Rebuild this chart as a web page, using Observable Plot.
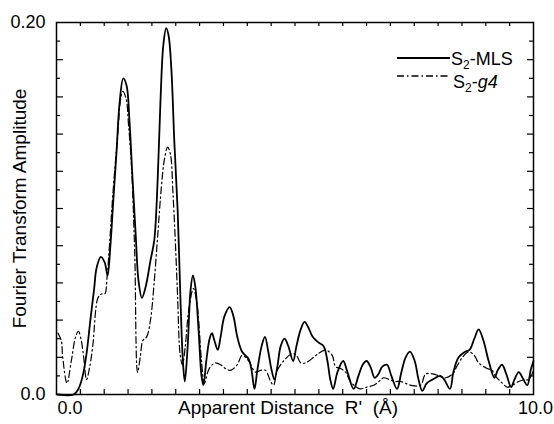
<!DOCTYPE html>
<html><head><meta charset="utf-8">
<script src="https://cdn.jsdelivr.net/npm/d3@7"></script>
<script src="https://cdn.jsdelivr.net/npm/@observablehq/plot@0.6"></script>
<style>
html,body{margin:0;padding:0;background:#fff;}
#chart{position:relative;width:554px;height:424px;font-family:"Liberation Sans",Arial,Helvetica,sans-serif;color:#000;}
#chart svg{display:block;}
.lg{position:absolute;font-size:18px;line-height:20px;white-space:nowrap;}
.lg sub{font-size:12px;vertical-align:-4px;line-height:0;}
.lgline{position:absolute;}
</style></head><body><div id="chart"></div>
<script>
// ---- data ----
const seriesNames = ["S2-MLS", "S2-g4"];
const solidX = [0.02,0.36,0.46,0.55,0.63,0.71,0.79,0.84,0.93,1.01,1.07,1.13,1.19,1.26,1.32,1.40,1.47,1.53,1.59,1.66,1.72,1.79,1.87,1.97,2.05,2.12,2.18,2.24,2.30,2.35,2.41,2.47,2.54,2.60,2.65,2.69,2.75,2.81,2.86,2.91,2.98,3.04,3.08,3.14,3.21,3.26,3.31,3.38,3.44,3.52,3.63,3.71,3.79,3.89,4.03,4.09,4.15,4.21,4.30,4.37,4.44,4.51,4.57,4.63,4.70,4.78,4.86,4.96,5.03,5.12,5.20,5.28,5.37,5.49,5.60,5.68,5.74,5.80,5.89,6.01,6.10,6.23,6.33,6.42,6.50,6.58,6.67,6.75,6.83,6.93,7.02,7.14,7.23,7.32,7.41,7.51,7.59,7.67,7.76,7.88,8.05,8.13,8.25,8.32,8.43,8.57,8.66,8.76,8.85,8.95,9.06,9.18,9.25,9.34,9.43,9.53,9.60,9.69,9.77,9.87,9.94,10.0];
const solidV = [0,0,0.003,0.010,0.022,0.040,0.057,0.068,0.074,0.071,0.064,0.080,0.104,0.131,0.156,0.170,0.166,0.147,0.118,0.086,0.061,0.052,0.058,0.072,0.083,0.115,0.158,0.188,0.197,0.193,0.174,0.136,0.099,0.050,0.018,0.007,0.026,0.056,0.064,0.058,0.034,0.010,0.005,0.018,0.030,0.033,0.029,0.024,0.031,0.042,0.047,0.042,0.031,0.023,0.019,0.013,0.003,0.013,0.026,0.031,0.023,0.013,0.008,0.015,0.026,0.030,0.026,0.018,0.026,0.035,0.039,0.036,0.031,0.028,0.026,0.018,0.008,0.003,0.012,0.018,0.012,0.003,0.010,0.016,0.018,0.015,0.009,0.011,0.015,0.016,0.010,0.003,0.012,0.020,0.023,0.018,0.008,0.002,0.006,0.008,0.010,0.008,0.003,0.012,0.020,0.023,0.024,0.030,0.035,0.029,0.018,0.009,0.013,0.016,0.011,0.004,0.008,0.012,0.009,0.005,0.013,0.018];
const dashX = [0.03,0.10,0.13,0.22,0.31,0.40,0.46,0.52,0.57,0.63,0.69,0.76,0.87,0.94,1.01,1.06,1.11,1.18,1.29,1.34,1.39,1.46,1.51,1.57,1.64,1.70,1.76,1.81,1.89,1.97,2.05,2.12,2.20,2.26,2.33,2.39,2.44,2.49,2.54,2.59,2.64,2.70,2.77,2.87,2.94,2.98,3.04,3.10,3.17,3.23,3.33,3.44,3.54,3.65,3.79,3.89,4.03,4.17,4.28,4.38,4.49,4.55,4.63,4.76,4.94,5.03,5.12,5.22,5.29,5.39,5.49,5.64,5.78,5.85,5.95,6.06,6.16,6.29,6.37,6.51,6.65,6.76,6.86,6.98,7.11,7.21,7.32,7.42,7.63,7.74,7.91,8.01,8.16,8.30,8.39,8.51,8.64,8.76,8.85,9.03,9.13,9.20,9.31,9.45,9.56,9.69,9.81,9.90,10.0];
const dashV = [0.033,0.029,0.020,0.006,0.018,0.031,0.034,0.029,0.020,0.008,0.014,0.026,0.052,0.054,0.054,0.063,0.080,0.107,0.142,0.158,0.163,0.159,0.145,0.124,0.076,0.012,0.021,0.029,0.031,0.040,0.061,0.085,0.112,0.126,0.133,0.129,0.109,0.083,0.052,0.022,0.016,0.026,0.045,0.057,0.050,0.040,0.018,0.006,0.012,0.015,0.017,0.016,0.014,0.013,0.016,0.021,0.018,0.012,0.013,0.013,0.007,0.005,0.013,0.018,0.022,0.021,0.017,0.017,0.018,0.020,0.022,0.024,0.021,0.015,0.014,0.012,0.007,0.004,0.003,0.004,0.005,0.007,0.009,0.008,0.007,0.007,0.006,0.005,0.005,0.011,0.011,0.010,0.009,0.011,0.015,0.020,0.023,0.021,0.017,0.014,0.013,0.010,0.007,0.004,0.005,0.007,0.008,0.008,0.013];
const xTickValues = [0, 10];
const xTickLabels = ["0.0", "10.0"];
const yTickValues = [0, 0.2];
const yTickLabels = ["0.0", "0.20"];
const xMinorTicks = [0.5,1,1.5,2,2.5,3,3.5,4,4.5,5,5.5,6,6.5,7,7.5,8,8.5,9,9.5];
const yMajorTicks = [0.02,0.04,0.06,0.08,0.10,0.12,0.14,0.16,0.18];
const yMinorTicks = [0.01,0.03,0.05,0.07,0.09,0.11,0.13,0.15,0.17,0.19];
const xLabel = "Apparent Distance\u00a0 R'\u00a0 (\u00c5)";
const yLabel = "Fourier Transform Amplitude";

const solid = solidX.map((x, i) => ({x, v: solidV[i]}));
const dash = dashX.map((x, i) => ({x, v: dashV[i]}));

const W = 554, H = 424, mL = 56, mR = 21, mT = 22, mB = 30;
const innerW = W - mL - mR, innerH = H - mT - mB;
const font = '"Liberation Sans", Arial, Helvetica, sans-serif';
const dashPattern = "7,3,1.5,3";

const chart = Plot.plot({
  width: W, height: H,
  marginLeft: mL, marginRight: mR, marginTop: mT, marginBottom: mB,
  style: {fontFamily: font, background: "#fff", color: "#000", overflow: "visible"},
  x: {domain: [0, 10], axis: null},
  y: {domain: [0, 0.2], axis: null},
  marks: [
    Plot.ruleX(xMinorTicks, {x: d => d, insetTop: innerH - 5, strokeWidth: 1.2}),
    Plot.ruleX(xMinorTicks, {x: d => d, insetBottom: innerH - 4, strokeWidth: 1.2}),
    Plot.ruleY(yMajorTicks, {y: d => d, insetRight: innerW - 7, strokeWidth: 1.2}),
    Plot.ruleY(yMinorTicks, {y: d => d, insetRight: innerW - 4, strokeWidth: 1.2}),
    Plot.ruleY(yMajorTicks, {y: d => d, insetLeft: innerW - 6, strokeWidth: 1.2}),
    Plot.ruleY(yMinorTicks, {y: d => d, insetLeft: innerW - 4, strokeWidth: 1.2}),
    Plot.line(dash, {x: "x", y: "v", curve: "catmull-rom", stroke: "#000", strokeWidth: 1.2, strokeDasharray: dashPattern}),
    Plot.line(solid, {x: "x", y: "v", curve: "catmull-rom", stroke: "#000", strokeWidth: 1.8}),
    Plot.frame({stroke: "#000", strokeWidth: 1.5}),
    Plot.text(xTickValues, {filter: (d, i) => i === 0, x: d => d, text: d => xTickLabels[xTickValues.indexOf(d)], frameAnchor: "bottom", dy: 19, dx: 1, textAnchor: "start", fontSize: 18, fill: "#000"}),
    Plot.text(xTickValues, {filter: (d, i) => i === 1, x: d => d, text: d => xTickLabels[xTickValues.indexOf(d)], frameAnchor: "bottom", dy: 19, dx: 2, textAnchor: "middle", fontSize: 18, fill: "#000"}),
    Plot.text(yTickValues, {y: d => d, text: d => yTickLabels[yTickValues.indexOf(d)], frameAnchor: "left", dx: -11, textAnchor: "end", fontSize: 18, fill: "#000"}),
    Plot.text([xLabel], {frameAnchor: "bottom", dy: 19, dx: -7, text: d => d, textAnchor: "middle", fontSize: 19, fill: "#000"}),
    Plot.text([yLabel], {frameAnchor: "left", dx: -37, rotate: -90, text: d => d, textAnchor: "middle", fontSize: 19, fill: "#000"})
  ]
});
const root = document.getElementById("chart");
root.appendChild(chart);

// legend overlay
function legendLine(top, dashed) {
  const ns = "http://www.w3.org/2000/svg";
  const s = document.createElementNS(ns, "svg");
  s.setAttribute("width", 54); s.setAttribute("height", 6);
  s.setAttribute("class", "lgline");
  s.style.left = "397px"; s.style.top = (top - 3) + "px";
  const l = document.createElementNS(ns, "line");
  l.setAttribute("x1", 0); l.setAttribute("x2", 53); l.setAttribute("y1", 3); l.setAttribute("y2", 3);
  l.setAttribute("stroke", "#000");
  l.setAttribute("stroke-width", dashed ? 1.3 : 1.8);
  if (dashed) l.setAttribute("stroke-dasharray", dashPattern);
  s.appendChild(l);
  root.appendChild(s);
}
function legendText(left, top, name) {
  const d = document.createElement("div");
  d.className = "lg";
  d.style.left = left + "px"; d.style.top = top + "px";
  const [a, b] = name.split("-");
  const rest = b === "MLS" ? b : "<i>" + b + "</i>";
  d.innerHTML = a.slice(0, 1) + "<sub>" + a.slice(1) + "</sub>-" + rest;
  root.appendChild(d);
}
legendLine(58, false);
legendText(451, 49, seriesNames[0]);
legendLine(76, true);
legendText(453, 72, seriesNames[1]);
</script></body></html>
